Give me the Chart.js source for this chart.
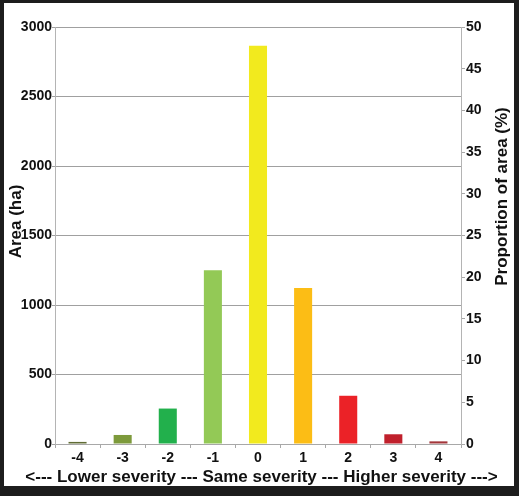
<!DOCTYPE html>
<html>
<head>
<meta charset="utf-8">
<script src="https://cdn.jsdelivr.net/npm/chart.js@4"></script>
<style>
    body { margin: 0; background: #1d1d1d; width: 519px; height: 496px; overflow: hidden; }
    #panel { position: absolute; left: 4px; top: 3px; width: 510px; height: 483px; background: #fff; }
</style>
</head>
<body>
<div id="panel"><canvas id="severityChart" width="510" height="483"></canvas></div>
<script>
const categories = ['-4', '-3', '-2', '-1', '0', '1', '2', '3', '4'];
const areaHa = [15, 65, 255, 1250, 2865, 1122, 347, 70, 19];
const barColors = ['#606c35', '#7d9a3b', '#22b04c', '#93c956', '#f2ea1e', '#fcbd15', '#eb2227', '#c0202c', '#a3363a'];
const areaTicks = [0, 500, 1000, 1500, 2000, 2500, 3000];
const percentTicks = [0, 5, 10, 15, 20, 25, 30, 35, 40, 45, 50];

const leftTitle = 'Area (ha)';
const rightTitle = 'Proportion of area (%)';
const bottomTitle = '<--- Lower severity --- Same severity --- Higher severity --->';

const tickFont = { family: 'Liberation Sans, Arial, sans-serif', size: 14, weight: 'bold' };
const titleFont = 'bold 17px "Liberation Sans", Arial, sans-serif';

// axis titles drawn by hand so the right one reads bottom-to-top
const titlesPlugin = {
    id: 'titles',
    afterDraw(chart) {
        const ctx = chart.ctx;
        ctx.save();
        ctx.fillStyle = '#111';
        ctx.font = titleFont;
        ctx.textAlign = 'center';
        ctx.textBaseline = 'alphabetic';

        ctx.save();
        ctx.translate(17, 218.5);
        ctx.rotate(-Math.PI / 2);
        ctx.fillText(leftTitle, 0, 0);
        ctx.restore();

        ctx.save();
        ctx.translate(503, 193.5);
        ctx.rotate(-Math.PI / 2);
        ctx.fillText(rightTitle, 0, 0);
        ctx.restore();

        ctx.fillText(bottomTitle, 257.5, 478.5);
        ctx.restore();
    }
};

const ctx = document.getElementById('severityChart').getContext('2d');

new Chart(ctx, {
    type: 'bar',
    data: {
        labels: categories,
        datasets: [{
            label: 'Area',
            data: areaHa,
            backgroundColor: barColors,
            borderWidth: 0,
            barPercentage: 0.4,
            categoryPercentage: 1.0,
            yAxisID: 'y'
        }]
    },
    options: {
        responsive: false,
        animation: false,
        devicePixelRatio: 1,
        layout: { padding: { top: 24, left: 0, right: 0, bottom: 0 } },
        plugins: {
            legend: { display: false },
            tooltip: { enabled: false }
        },
        scales: {
            x: {
                grid: { display: true, drawOnChartArea: false, offset: true, color: '#a8a8a8', tickLength: 4 },
                border: { color: '#a8a8a8' },
                ticks: { color: '#111', font: tickFont, padding: 2, maxRotation: 0 },
                afterFit(scale) { scale.height = 42; }
            },
            y: {
                position: 'left',
                min: 0,
                max: 3000,
                grid: { color: '#a0a0a0', tickLength: 3 },
                border: { color: '#b4b4b4' },
                afterBuildTicks(scale) { scale.ticks = areaTicks.map(v => ({ value: v })); },
                ticks: { color: '#111', font: tickFont, padding: 0, callback: v => String(v) },
                afterFit(scale) { scale.width = 51; }
            },
            y1: {
                position: 'right',
                min: 0,
                max: 50,
                grid: { drawOnChartArea: false, color: '#a8a8a8', tickLength: 4 },
                border: { color: '#b4b4b4' },
                afterBuildTicks(scale) { scale.ticks = percentTicks.map(v => ({ value: v })); },
                ticks: { color: '#111', font: tickFont, padding: 1, callback: v => String(v) },
                afterFit(scale) { scale.width = 53; }
            }
        }
    },
    plugins: [titlesPlugin]
});
</script>
</body>
</html>
